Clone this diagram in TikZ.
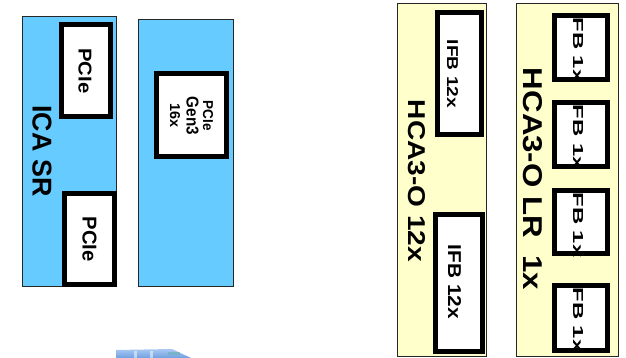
\documentclass[tikz,border=0pt]{standalone}
\usepackage{fontspec}
\setmainfont{Liberation Sans}
\newfontfamily\lblfont{Liberation Sans Bold}
\usepackage{graphicx}
\definecolor{icablue}{HTML}{66CCFF}
\definecolor{hcayellow}{HTML}{FFFFCC}
\definecolor{traytop}{HTML}{A9C9F2}
\definecolor{traybot}{HTML}{6F9FE0}
% bold label stretched to a given length and cap height (in pt)
\newcommand{\fittext}[3]{\resizebox{#1pt}{#2pt}{\lblfont #3}}
\begin{document}
\begin{tikzpicture}[x=1pt,y=-1pt,
  card/.style={draw=black!85, line width=1pt},
  bluecard/.style={card, fill=icablue},
  yellowcard/.style={card, fill=hcayellow},
  port/.style={draw=black, fill=white, line width=5pt},
  lbl/.style={inner sep=0pt, outer sep=0pt, rotate=-90}]
\useasboundingbox (0,0) rectangle (626,358);

% ICA SR adapter
\draw[bluecard] (22.5,16.5) rectangle (116.5,286.5);
\draw[port] (61.5,24.5) rectangle (110.5,116.5);
\draw[port] (64.5,193.5) rectangle (114.5,284.5);
\node[lbl] (pcieA) at (85,71) {\fittext{45}{13}{PCIe}};
\node[lbl] (pcieB) at (89.5,239) {\fittext{45}{14}{PCIe}};
\node[lbl] (icasr) at (42,151) {\fittext{91}{19}{ICA SR}};

% PCIe Gen3 adapter
\draw[bluecard] (138.5,19.5) rectangle (233.5,286.5);
\draw[port] (156.5,73.5) rectangle (226.5,156.5);
\node[lbl, align=center, font=\fontsize{12}{16.5}\selectfont] (gen3) at (191.5,116)
  {\fittext{30}{10}{PCIe}\\\fittext{38}{12}{Gen3}\\\fittext{24}{10}{16x}};

% HCA3-O 12x adapter
\draw[yellowcard] (397.5,3.5) rectangle (486.5,356.5);
\draw[port] (437.5,12.5) rectangle (481.5,134.5);
\draw[port] (435.5,214.5) rectangle (482.5,351.5);
\node[lbl] (ifbA) at (452.5,74) {\fittext{68}{11}{IFB 12x}};
\node[lbl] (ifbB) at (454.5,282) {\fittext{74}{13}{IFB 12x}};
\node[lbl] (hca12) at (416.5,181) {\fittext{162}{17}{HCA3-O 12x}};

% HCA3-O LR adapter
\draw[yellowcard] (516.5,3.5) rectangle (618.5,356.5);
\foreach \ya/\yb/\yc [count=\i] in {15.5/79.5/50, 102.5/166.5/137.5, 190.5/253.5/225, 285.5/350.5/320}{
  \draw[port] (554.5,\ya) rectangle (607.5,\yb);
  \node[lbl] (fb\i) at (578,\yc) {\fittext{65}{10}{FB 1x}};
}
\node[lbl] (hcalr) at (532.5,179) {\fittext{222}{19}{HCA3-O LR\ \ 1x}};

% edge of a tray below the adapters
\shade[top color=traytop, bottom color=traybot]
  (116,350) -- (172,349) -- (191,358) -- (116,358) -- cycle;
\fill[white, opacity=0.5] (134,351) rectangle (137,358);
\fill[white, opacity=0.5] (150,351) rectangle (153,358);
\fill[teal!60, opacity=0.6] (168,352) rectangle (180,355);
\end{tikzpicture}
\end{document}
